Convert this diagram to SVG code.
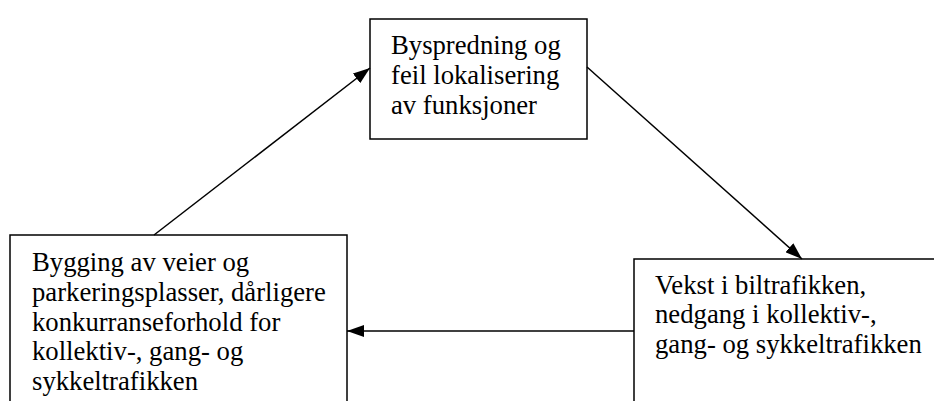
<svg xmlns="http://www.w3.org/2000/svg" width="934" height="401" viewBox="0 0 934 401">
<style>
.box{fill:#fff;stroke:#000;stroke-width:1.5}
.t{font-family:"Liberation Serif","Times New Roman",serif;font-size:26.7px;fill:#000}
.c{stroke:#000;stroke-width:1.5;fill:none;marker-end:url(#ah)}
</style>
<defs>
<marker id="ah" viewBox="0 0 17 12" refX="17" refY="6" markerWidth="17" markerHeight="12" markerUnits="userSpaceOnUse" orient="auto">
<path d="M0,0 L17,6 L0,12 z" fill="#000"/>
</marker>
</defs>
<rect width="934" height="401" fill="#fff"/>
<g id="n1">
<rect class="box" x="370" y="19" width="217" height="120"/>
<text class="t" x="391" y="54">Byspredning og</text>
<text class="t" x="391" y="84">feil lokalisering</text>
<text class="t" x="391" y="114">av funksjoner</text>
</g>
<g id="n2">
<rect class="box" x="634" y="259" width="310" height="160"/>
<text class="t" x="655" y="294">Vekst i biltrafikken,</text>
<text class="t" x="655" y="323">nedgang i kollektiv-,</text>
<text class="t" x="655" y="353">gang- og sykkeltrafikken</text>
</g>
<g id="n3">
<rect class="box" x="10" y="235" width="337" height="180"/>
<text class="t" x="32" y="271">Bygging av veier og</text>
<text class="t" x="32" y="301">parkeringsplasser, dårligere</text>
<text class="t" x="32" y="331">konkurranseforhold for</text>
<text class="t" x="32" y="360">kollektiv-, gang- og</text>
<text class="t" x="32" y="390">sykkeltrafikken</text>
</g>
<g id="connectors">
<line class="c" x1="154" y1="235" x2="370" y2="68"/>
<line class="c" x1="587" y1="67" x2="802" y2="259"/>
<line class="c" x1="634" y1="331" x2="347" y2="331"/>
</g>
</svg>
